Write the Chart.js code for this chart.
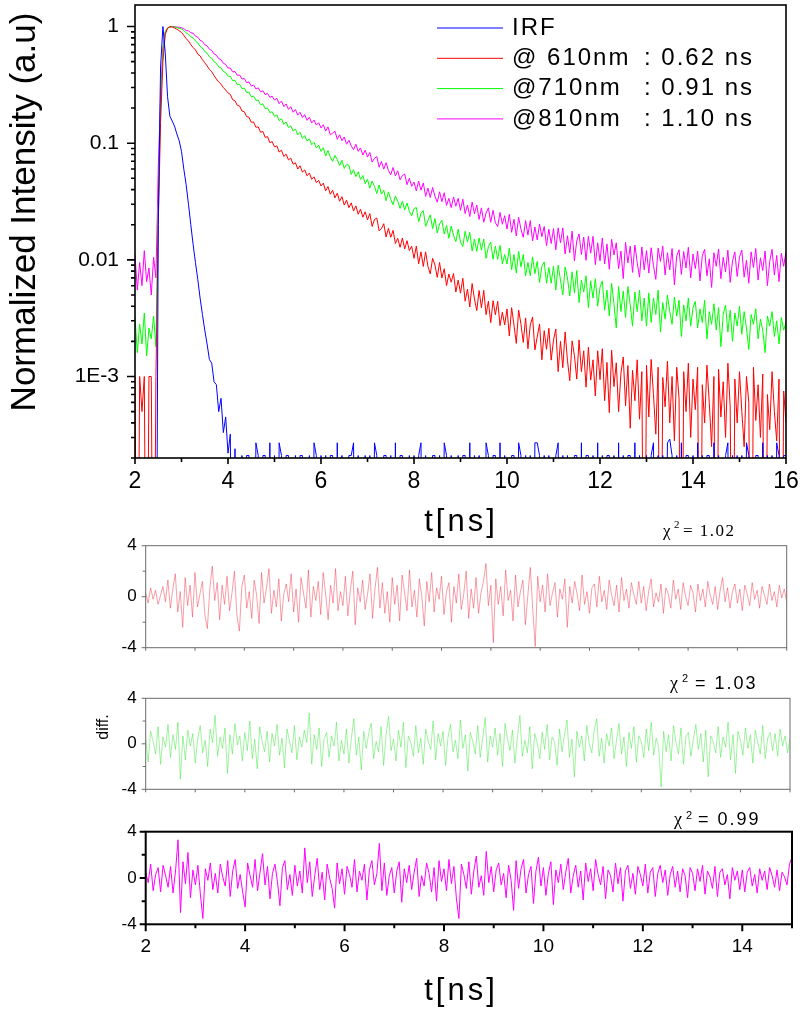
<!DOCTYPE html>
<html>
<head>
<meta charset="utf-8">
<title>Fluorescence decay</title>
<script src="https://cdn.jsdelivr.net/npm/chart.js@4.4.1/dist/chart.umd.min.js"></script>
<style>
  html, body { margin: 0; padding: 0; background: #fff; }
  #wrap { position: relative; width: 800px; height: 1013px; }
  canvas { position: absolute; left: 0; }
</style>
</head>
<body>
<div id="wrap">
  <canvas id="decay" width="800" height="550" style="top:0"></canvas>
  <canvas id="res610" width="800" height="160" style="top:500px"></canvas>
  <canvas id="res710" width="800" height="140" style="top:660px"></canvas>
  <canvas id="res810" width="800" height="213" style="top:800px"></canvas>
</div>
<script>
// time channels: every 0.05 ns starting at 2 ns
const tStart = 2;
const tStep = 0.05;

// normalized decays, 0 = empty channel
const irf = [
  0, 0, 0, 0, 0, 0, 0, 0, 0, 0,
  0.02, 0.45, 1.0, 0.6, 0.25, 0.17, 0.155, 0.14, 0.12, 0.105, 0.085,
  0.06, 0.044, 0.03, 0.02, 0.0135, 0.0095, 0.0068, 0.0047, 0.0034, 0.0025, 0.0019, 0.0014, 0.0013, 0.0009, 0.00085, 0.0005, 0.00065, 0.00033, 0.00045, 0.00022,
  0.00032, 0,
  0.00024, 0, 0, 0.00021, 0, 0.00021, 0.00021, 0, 0, 0.00027, 0.00021, 0, 0.00021, 0.00021, 0, 0.00027, 0, 0.00021,
  0, 0.00027, 0.00021, 0, 0.00021, 0.00021, 0, 0, 0.00021, 0, 0.00021, 0.00021, 0, 0, 0.00021, 0, 0.00027, 0.00021, 0, 0.00021,
  0, 0.00021, 0, 0.00021, 0.00021, 0, 0.00027, 0, 0.00021, 0, 0, 0.00021, 0.00021, 0.00027, 0, 0.00021, 0, 0, 0.00021, 0,
  0.00021, 0, 0.00027, 0.00021, 0, 0, 0.00021, 0.00021, 0, 0.00021, 0, 0.00027, 0, 0.00021, 0.00021, 0, 0, 0.00021, 0, 0.00021,
  0, 0.00021, 0.00027, 0, 0.00021, 0, 0, 0.00021, 0.00021, 0, 0.00021, 0, 0.00027, 0.00021, 0, 0.00021, 0, 0, 0.00021, 0,
  0.00021, 0.00021, 0, 0.00027, 0, 0.00021, 0, 0.00021, 0, 0, 0.00027, 0.00021, 0, 0.00021, 0.00021, 0, 0.00027, 0, 0.00021, 0,
  0, 0.00021, 0.00021, 0, 0.00027, 0.00021, 0, 0.00021, 0, 0.00021, 0, 0.00027, 0.00027, 0.00021, 0, 0.00021, 0, 0.00021, 0, 0,
  0.00021, 0.00027, 0, 0.00021, 0, 0.00021, 0, 0, 0.00021, 0.00021, 0, 0.00027, 0, 0.00021, 0.00021, 0, 0.00021, 0, 0.00027, 0,
  0.00021, 0, 0.00021, 0.00021, 0, 0.00021, 0, 0.00027, 0, 0.00021, 0, 0.00021, 0.00021, 0, 0.00027, 0, 0.00021, 0, 0, 0.00021,
  0, 0.00021, 0.00027, 0, 0.00021, 0, 0.00021, 0, 0.00027, 0.00029, 0.00021, 0, 0.00021, 0, 0.00027, 0, 0.00021, 0.00021, 0, 0.00021,
  0, 0.00027, 0, 0.00021, 0, 0.00021, 0.00021, 0, 0.00027, 0, 0.00021, 0, 0, 0.00021, 0.00027, 0, 0.00021, 0, 0.00021, 0,
  0.00021, 0, 0.00027, 0.00021, 0, 0, 0.00021, 0.00021, 0, 0.00027, 0, 0.00021, 0, 0.00021, 0, 0.00027, 0.00021, 0, 0.00021, 0.00021
];

const em610 = [
  0.001, 0, 0.001, 0.0005, 0.001, 0, 0.001, 0.001, 0, 0.001,
  0.02, 0.15, 0.5, 0.85, 0.97, 1.0, 0.99, 0.97, 0.95, 0.92, 0.89,
  0.84, 0.79, 0.75, 0.70, 0.66, 0.63, 0.58, 0.56, 0.52, 0.49, 0.46, 0.43, 0.41, 0.38, 0.355, 0.335, 0.32, 0.30, 0.285, 0.27,
  0.262, 0.236, 0.231, 0.211, 0.208, 0.189, 0.186, 0.169, 0.167, 0.151, 0.152, 0.137, 0.138, 0.124, 0.126, 0.112, 0.114, 0.101, 0.103, 0.093,
  0.095, 0.084, 0.087, 0.077, 0.0805, 0.072, 0.0745, 0.066, 0.068, 0.060, 0.064, 0.0565, 0.059, 0.0525, 0.0555, 0.049, 0.0515, 0.046, 0.048, 0.043,
  0.0455, 0.039, 0.0425, 0.0365, 0.0395, 0.034, 0.0372, 0.0318, 0.0348, 0.0295, 0.0325, 0.028, 0.0308, 0.0262, 0.029, 0.0246, 0.0272, 0.0232, 0.0258, 0.022,
  0.0249, 0.0193, 0.0222, 0.0228, 0.0177, 0.0185, 0.0204, 0.0157, 0.0186, 0.0156, 0.0179, 0.0138, 0.0153, 0.0128, 0.0154, 0.0124, 0.0146, 0.0120, 0.0131, 0.0103,
  0.0131, 0.00924, 0.0117, 0.00877, 0.0117, 0.00879, 0.00757, 0.0103, 0.00904, 0.00707, 0.00949, 0.00698, 0.0084, 0.00601, 0.00756, 0.00642, 0.00764, 0.0053, 0.00671, 0.00518,
  0.00695, 0.00442, 0.00562, 0.00394, 0.00626, 0.00461, 0.00367, 0.00546, 0.00388, 0.00547, 0.00339, 0.00442, 0.00289, 0.00446, 0.00338, 0.00441, 0.00273, 0.00356, 0.00277, 0.00379,
  0.00222, 0.00389, 0.00276, 0.00192, 0.00371, 0.00281, 0.00196, 0.00318, 0.00173, 0.00276, 0.00323, 0.00169, 0.00218, 0.00282, 0.00139, 0.00247, 0.00171, 0.00259, 0.00138, 0.00205,
  0.00255, 0.0011, 0.002, 0.00119, 0.00241, 0.00138, 0.00092, 0.00202, 0.00151, 0.00095, 0.00206, 0.0011, 0.00166, 0.00081, 0.00178, 0.00093, 0.00139, 0.00068, 0.00166, 0.00094,
  0.00173, 0.00062, 0.00132, 0.00049, 0.00168, 0.00082, 0.00131, 0.0005, 0.00107, 0.00147, 0.00056, 0.00124, 0.00036, 0.00113, 0.00062, 0.00139, 0.00043, 0.0011, 0, 0.00125,
  0.00045, 0.0014, 0.0007, 0.00032, 0.0012, 0, 0.00098, 0.00055, 0.00135, 0.0004, 0.001, 0.00028, 0.0012, 0.00065, 0, 0.0011, 0.0005, 0.0013, 0.0003, 0.00095,
  0.00052, 0.0012, 0, 0.00085, 0.0004, 0.00125, 0.0006, 0.00025, 0.001, 0, 0.00115, 0.00045, 0.0009, 0.0003, 0.0013, 0.00055, 0, 0.00095, 0.0004, 0.0011,
  0.0005, 0.00025, 0.001, 0.0006, 0, 0.0012, 0.00042, 0.00085, 0.0003, 0.00105, 0, 0.0007, 0.00035, 0.0011, 0.0005, 0.00028, 0.00095, 0, 0.00075, 0.0004
];

const em710 = [
  0.0032, 0.0016, 0.0028, 0.0019, 0.0035, 0.0015, 0.0026, 0.0021, 0.0033, 0.0018,
  0.03, 0.2, 0.6, 0.9, 0.97, 0.99, 1.0, 0.99, 0.98, 0.965, 0.955,
  0.925, 0.882, 0.86, 0.818, 0.80, 0.75, 0.723, 0.676, 0.655, 0.611, 0.592, 0.551, 0.535, 0.498, 0.485, 0.452, 0.442, 0.412, 0.403, 0.376,
  0.373, 0.344, 0.345, 0.318, 0.320, 0.294, 0.296, 0.272, 0.274, 0.250, 0.253, 0.233, 0.234, 0.214, 0.217, 0.198, 0.200, 0.183, 0.186, 0.170,
  0.175, 0.156, 0.162, 0.145, 0.152, 0.136, 0.141, 0.127, 0.132, 0.118, 0.124, 0.110, 0.116, 0.104, 0.109, 0.097, 0.102, 0.091, 0.096, 0.085,
  0.0915, 0.0777, 0.0866, 0.076, 0.0698, 0.0786, 0.0725, 0.0641, 0.0714, 0.0607, 0.0656, 0.0647, 0.0539, 0.0591, 0.0517, 0.0569, 0.0489, 0.0529, 0.0449, 0.0491,
  0.0412, 0.0474, 0.0425, 0.037, 0.0438, 0.0366, 0.0395, 0.0321, 0.0382, 0.0329, 0.0297, 0.0353, 0.0318, 0.0276, 0.0319, 0.0267, 0.0307, 0.0261, 0.0238, 0.0275,
  0.0281, 0.0212, 0.025, 0.0264, 0.0194, 0.0217, 0.0243, 0.0185, 0.0226, 0.017, 0.0203, 0.0218, 0.0166, 0.0197, 0.0153, 0.0195, 0.0162, 0.0143, 0.0183, 0.0142,
  0.013, 0.0176, 0.0142, 0.0172, 0.0119, 0.0151, 0.0118, 0.0154, 0.0121, 0.0151, 0.0103, 0.013, 0.0142, 0.0101, 0.0131, 0.0101, 0.0133, 0.0092, 0.0111, 0.0092,
  0.0126, 0.0082, 0.0111, 0.0077, 0.0118, 0.0087, 0.0111, 0.0073, 0.0095, 0.0073, 0.0106, 0.0076, 0.0097, 0.0064, 0.0088, 0.0096, 0.0063, 0.0086, 0.0063, 0.0088,
  0.0055, 0.009, 0.0067, 0.005, 0.0087, 0.007, 0.0049, 0.0079, 0.0052, 0.0081, 0.0043, 0.0067, 0.0053, 0.0073, 0.0039, 0.0066, 0.0047, 0.0069, 0.004, 0.0058,
  0.0066, 0.0037, 0.0055, 0.0033, 0.0063, 0.0042, 0.0026, 0.0059, 0.0036, 0.0054, 0.0032, 0.0059, 0.0041, 0.0027, 0.0053, 0.0036, 0.0055, 0.003, 0.0047, 0.0027,
  0.0052, 0.0029, 0.0047, 0.0034, 0.0055, 0.0024, 0.0043, 0.0031, 0.005, 0.0036, 0.0028, 0.0048, 0.0033, 0.0045, 0.0022, 0.0041, 0.003, 0.0047, 0.0027, 0.0039,
  0.0044, 0.0026, 0.0038, 0.0029, 0.0045, 0.0021, 0.0036, 0.0028, 0.0042, 0.0025, 0.0039, 0.0018, 0.0034, 0.0041, 0.0024, 0.0037, 0.002, 0.0035, 0.0027, 0.004,
  0.0023, 0.0036, 0.0026, 0.0017, 0.0034, 0.0028, 0.0038, 0.0021, 0.0031, 0.0025, 0.0016, 0.0033, 0.0027, 0.0036, 0.0022, 0.003, 0.0019, 0.0032, 0.0025, 0.0029
];

const em810 = [
  0.011, 0.0055, 0.0095, 0.006, 0.012, 0.0065, 0.0085, 0.005, 0.0105, 0.007,
  0.06, 0.25, 0.65, 0.9, 0.97, 0.99, 1.0, 1.0, 0.99, 0.985, 0.975,
  0.96, 0.925, 0.918, 0.884, 0.878, 0.828, 0.81, 0.762, 0.745, 0.70, 0.683, 0.64, 0.624, 0.582, 0.568, 0.53, 0.52, 0.484, 0.474, 0.441,
  0.441, 0.408, 0.412, 0.381, 0.384, 0.355, 0.359, 0.331, 0.335, 0.309, 0.315, 0.292, 0.298, 0.276, 0.281, 0.261, 0.267, 0.247, 0.253, 0.234,
  0.243, 0.218, 0.23, 0.206, 0.217, 0.195, 0.206, 0.184, 0.194, 0.174, 0.184, 0.166, 0.176, 0.157, 0.167, 0.149, 0.158, 0.143, 0.15, 0.135,
  0.144, 0.127, 0.138, 0.118, 0.122, 0.127, 0.108, 0.118, 0.105, 0.113, 0.098, 0.106, 0.095, 0.088, 0.098, 0.085, 0.091, 0.079, 0.087, 0.076,
  0.0833, 0.0688, 0.0741, 0.0768, 0.0622, 0.0697, 0.0599, 0.0681, 0.0583, 0.0536, 0.0619, 0.0524, 0.058, 0.0485, 0.0528, 0.0544, 0.0441, 0.05, 0.0427, 0.0465,
  0.0389, 0.0474, 0.0396, 0.0456, 0.035, 0.0412, 0.0342, 0.0417, 0.0352, 0.0312, 0.0383, 0.0315, 0.0376, 0.0293, 0.0337, 0.028, 0.0346, 0.0288, 0.0337, 0.0266,
  0.0331, 0.0249, 0.0295, 0.0235, 0.0313, 0.0248, 0.0295, 0.0222, 0.0279, 0.021, 0.0252, 0.0279, 0.021, 0.0266, 0.0208, 0.0193, 0.0255, 0.0202, 0.0239, 0.0184,
  0.0246, 0.0172, 0.0223, 0.016, 0.0232, 0.0183, 0.0156, 0.0217, 0.0163, 0.0217, 0.0145, 0.0191, 0.0148, 0.0203, 0.0158, 0.0193, 0.0132, 0.0183, 0.0138, 0.0185,
  0.0122, 0.0188, 0.014, 0.0188, 0.0112, 0.0161, 0.0115, 0.0176, 0.0098, 0.0145, 0.0167, 0.0111, 0.0157, 0.0099, 0.0159, 0.0114, 0.0159, 0.0091, 0.014, 0.0098,
  0.0154, 0.0092, 0.0137, 0.0083, 0.015, 0.011, 0.014, 0.0084, 0.0119, 0.0069, 0.0141, 0.0094, 0.0131, 0.0078, 0.0134, 0.0095, 0.0071, 0.0129, 0.0082, 0.012,
  0.0077, 0.0127, 0.0089, 0.0068, 0.0126, 0.0097, 0.0131, 0.0074, 0.0115, 0.0082, 0.0125, 0.0061, 0.0108, 0.0122, 0.0075, 0.0118, 0.0085, 0.0128, 0.007, 0.0112,
  0.0084, 0.0119, 0.0066, 0.0108, 0.0123, 0.0073, 0.0102, 0.0058, 0.0115, 0.0088, 0.0124, 0.0069, 0.0105, 0.0079, 0.0121, 0.0064, 0.0098, 0.0117, 0.0072, 0.0106,
  0.0121, 0.0071, 0.0099, 0.0063, 0.0117, 0.0086, 0.0125, 0.0067, 0.0104, 0.0081, 0.0119, 0.006, 0.0097, 0.0123, 0.0074, 0.0109, 0.0065, 0.0114, 0.0088, 0.0118
];

// weighted residuals of the fits, 2 ns .. 15 ns
const res610 = [
  0.3, -0.5, 0.7, -0.2, 0.5, -0.6, 0.1, 0.8, -0.4, 1.3, -0.9, 0.6, 1.8, -1.2, 0.4, -2.4, 1.5, -0.7, 0.9, -1.6,
  1.9, -0.8, 0.2, 1.2, -1.4, -2.5, 0.6, 2.4, -0.3, 1.1, -1.8, 0.9, -0.6, 1.6, -1.1, 0.3, 2.0, -1.5, -2.7, 0.8,
  1.7, -0.9, 0.4, -1.7, 1.3, 0.1, -2.1, 1.9, -0.5, 0.7, 2.2, -1.3, 0.5, -0.8, 1.4, -1.9, 0.2, 1.0, -0.4, 1.8,
  -1.2, 0.6, -2.0, 1.5, 0.3, -0.9, 2.1, -1.6, 0.8, -0.3, 1.2, -1.4, 1.9, 0.2, -1.8, 0.9, -0.5, 2.2, -1.1, 0.4,
  -0.7, 1.6, -1.5, 0.5, 2.0, -2.2, 0.7, -0.4, 1.3, -1.0, 0.2, 1.8, -1.7, 0.6, 2.3, -0.9, 1.1, -1.3, 0.4, -2.0,
  1.5, -0.6, 0.9, -1.9, 1.7, 0.3, -1.1, 2.1, -0.8, 0.5, -1.6, 1.4, 0.0, -2.3, 1.2, -0.4, 1.9, -1.2, 0.7, -0.2,
  1.6, -1.4, 0.4, 1.1, -2.0, 0.8, -0.5, 1.8, -1.0, 0.2, 2.0, -1.7, 0.6, -0.9, 1.5, -1.3, 0.3, 1.2, 2.6, -0.7,
  0.9, -3.6, 1.4, -0.6, 0.8, -1.5, 2.1, -0.3, 0.5, -1.9, 1.7, -0.8, 0.4, 1.3, -2.2, 0.1, 2.3, -1.0, -3.9, 1.6,
  -0.4, 0.9, -1.2, 1.8, -0.7, 0.3, 1.1, -1.6, 0.6, -0.2, 1.4, -2.4, 0.8, -0.5, 1.2, 0.2, -1.1, 1.7, -0.6, 0.4,
  -1.3, 0.7, 1.0, -0.8, 1.6, -0.4, 0.5, -1.0, 1.3, 0.1, -0.7, 0.9, -1.2, 1.5, -0.3, 0.6, -0.9, 1.1, 0.2, -0.6,
  1.2, -0.5, 0.8, -1.1, 0.4, 1.4, -0.8, 0.3, -0.4, 1.0, -1.3, 0.7, 0.2, -0.9, 1.3, -0.2, 0.6, -1.0, 1.1, 0.0,
  -0.7, 0.9, 0.3, -1.2, 1.0, -0.3, 0.6, -0.8, 1.2, 0.1, -0.6, 0.8, -1.0, 0.5, 1.5, -0.4, 0.7, -0.9, 0.4, 1.0,
  -0.5, 0.6, -1.1, 0.9, 0.2, -0.7, 1.1, -0.2, 0.5, -0.9, 0.8, 0.1, -0.6, 1.0, -0.3, 0.4, -0.8, 0.9, -0.1, 0.6,
  -0.4
];

const res710 = [
  0.4, -1.6, 1.1, 0.2, -0.9, 1.5, -1.8, 0.6, -0.3, 1.7, -1.2, 0.8, -0.5, 1.9, -3.1, 0.7, -1.4, 1.2, -0.2, 0.9,
  -1.7, 0.5, 1.6, -0.8, 0.3, -2.0, 1.3, 0.1, 2.5, -1.1, 0.6, -0.4, 1.4, -2.6, 0.8, -0.9, 1.8, -0.1, 0.7, -1.5,
  1.0, -0.6, 2.0, -1.3, 0.4, -2.2, 1.5, 0.2, -0.7, 1.1, -1.6, 0.9, -0.2, 1.7, -1.0, 0.5, -2.1, 1.3, 0.3, -0.8,
  1.6, -1.4, 0.6, -0.3, 1.2, 0.1, 2.7, -1.8, 0.8, -0.5, 1.4, -2.0, 0.4, 1.0, -1.2, 0.7, -0.2, 1.9, -1.5, 0.3,
  -0.9, 1.3, -1.7, 0.5, 2.2, -1.0, 0.6, -2.3, 1.1, -0.4, 0.9, 1.8, -1.3, 0.2, -0.7, 1.5, -1.9, 0.8, 2.4, -0.6,
  0.4, -1.5, 1.2, -0.3, 1.9, -2.1, 0.7, 0.1, -1.1, 1.6, -0.8, 0.5, -1.8, 1.3, 0.2, -0.5, 2.0, -1.4, 0.9, -0.2,
  1.1, -1.9, 0.6, 1.7, -0.7, 0.3, -1.3, 2.1, -0.4, 0.8, -2.4, 1.0, 0.2, -0.9, 1.6, -1.2, 0.5, 2.3, -1.6, 0.7,
  -0.3, 1.4, -1.0, 0.9, -2.0, 1.8, 0.4, -0.6, 1.2, -1.7, 0.6, 2.5, -1.1, 0.3, -0.8, 1.5, -2.2, 0.9, 0.1, -1.3,
  1.0, -0.5, 1.7, -1.4, 0.6, 0.2, -1.9, 1.3, -0.7, 0.8, 2.1, -1.2, 0.4, -2.9, 1.1, -0.3, 0.7, -1.5, 1.6, 0.0,
  -0.8, 1.2, 2.2, -1.1, 0.5, -1.7, 0.9, -0.2, 1.4, -1.3, 0.3, 1.8, -0.9, 0.6, -2.0, 1.0, -0.4, 1.5, -1.6, 0.7,
  0.2, -1.2, 1.3, -0.6, 1.9, -1.0, 0.5, -0.3, -3.8, 1.1, -0.7, 0.8, -1.5, 1.6, 0.1, -0.9, 1.4, -1.8, 0.6, 1.0,
  -1.1, 0.4, 1.7, -0.5, 0.9, -1.6, 1.2, -2.9, 0.7, 0.2, -0.8, 1.5, -1.2, 0.6, -0.3, 1.9, -1.4, 0.8, -2.6, 1.1,
  0.3, -1.0, 1.4, -0.4, 0.8, -1.7, 1.2, 0.1, -0.9, 1.6, -1.3, 0.5, 1.0, -0.6, 0.9, -1.1, 1.3, -0.2, 0.7, -0.8,
  0.5
];

const res810 = [
  0.5, -0.4, 1.2, -1.1, 0.3, 0.9, -1.2, 1.1, 0.2, -0.8, 1.0, -1.3, 0.6, 3.3, -3.0, 1.4, -0.5, 2.2, -1.7, 0.7,
  -0.6, 1.1, -1.4, -3.5, 0.8, -0.2, 1.3, -1.0, 0.4, -1.3, 1.2, 0.1, -0.7, 1.5, -1.6, 0.6, 1.6, -0.9, 0.3, -1.2,
  -2.5, 1.3, 0.2, -0.8, 1.6, -1.1, 0.5, 2.1, -0.6, 1.0, -1.8, 0.4, 1.2, -0.3, -2.4, 0.9, 1.5, -1.0, 0.3, -1.5,
  1.1, -0.7, 0.6, -1.3, 2.6, -0.4, 1.4, -1.6, 0.2, 1.7, -1.0, 0.5, -1.9, 1.2, 0.0, -0.9, -2.6, 1.3, -0.5, 0.8,
  -1.4, 1.0, 0.3, -0.8, 1.6, -1.2, 0.6, -0.2, 1.2, -1.9, 0.7, 1.5, -0.6, 0.4, 3.0, -1.1, 1.3, -1.5, 0.2, 0.9,
  -1.3, 0.6, 1.4, -2.1, 0.8, -0.4, 1.1, -1.0, 0.5, 1.7, -1.6, 0.2, -0.7, 1.3, 0.4, -1.2, 0.9, -2.0, 1.5, -0.3,
  0.8, -1.1, 1.6, -0.5, 1.0, -1.8, -3.5, 1.2, 0.3, -0.9, 1.4, -1.4, 0.6, 1.9, -0.8, 0.2, -1.5, 2.3, -0.4, 1.0,
  -1.2, 0.7, 1.3, -0.6, 0.4, -1.7, 1.1, -0.2, -2.8, 1.5, -0.9, 0.8, 1.6, -1.3, 0.3, 1.0, -2.2, 0.6, 1.8, -0.7,
  0.9, -1.5, 0.4, 1.4, -2.3, 0.7, -0.4, 1.2, -1.0, 0.5, 1.7, -1.3, 0.2, 1.1, -0.8, 0.6, -1.9, 1.3, -0.3, 0.8,
  -1.1, 1.6, 0.3, -0.6, 1.0, -1.8, 0.7, 0.2, -1.2, 1.3, -0.5, 0.9, -2.0, 0.6, 1.1, -0.9, 0.4, -1.4, 1.0, 0.3,
  -0.7, 1.2, -1.3, 0.5, 0.9, -1.6, 0.4, 1.1, -0.4, 0.7, -1.5, 0.3, 1.0, -0.8, 0.6, -1.2, 0.8, 0.2, -1.7, 0.9,
  0.4, -1.1, 0.8, -0.3, 1.1, -1.4, 0.6, 0.1, -0.9, 1.0, -1.6, 0.5, 0.8, -0.6, 0.3, -1.8, 0.9, -0.2, 0.6, -1.0,
  0.7, -1.2, 0.5, 0.9, -0.7, 0.3, -1.3, 0.8, -0.2, 0.6, -1.0, 0.9, 0.2, -0.8, 0.7, -1.1, 0.5, 0.1, -0.6, 1.2,
  1.8
];

// legend text
const seriesLabels = ['IRF', '@ 610nm', '@710nm', '@810nm'];
const lifetimes = ['', '0.62 ns', '0.91 ns', '1.10 ns'];
const seriesColors = ['#0000ff', '#ff0000', '#00ff00', '#ff00ff'];

// ticks
const yTickValues = [0.001, 0.01, 0.1, 1];
const yTickText = ['1E-3', '0.01', '0.1', '1'];
const xTicksMain = [2, 4, 6, 8, 10, 12, 14, 16];
const xMinorMain = [3, 5, 7, 9, 11, 13, 15];
const xTicksRes = [2, 4, 6, 8, 10, 12, 14];
const xMinorRes = [3, 5, 7, 9, 11, 13, 15];
const yTicksRes = [-4, 0, 4];
const yMinorRes = [-2, 2];
const chiLabels = ['1.02', '1.03', '0.99'];

const SANS = '"Liberation Sans", Arial, sans-serif';
const SERIF = '"Liberation Serif", "Times New Roman", serif';
Chart.defaults.font.family = SANS;
Chart.defaults.color = '#000';

// empty channels sit below the log axis floor, like in the original plot
const LOG_FLOOR = 1e-6;

function toPoints(vals, logAxis) {
  return vals.map((v, i) => ({
    x: +(tStart + i * tStep).toFixed(2),
    y: logAxis && v === 0 ? LOG_FLOOR : v
  }));
}

// box around the plot area plus outward tick marks
function frame(o) {
  return {
    id: 'frame',
    afterDraw(chart) {
      const { ctx, chartArea: a, scales: { x, y } } = chart;
      ctx.save();
      ctx.strokeStyle = o.color;
      ctx.lineWidth = o.width;
      ctx.strokeRect(a.left, a.top, a.right - a.left, a.bottom - a.top);
      ctx.beginPath();
      o.xTicks.forEach(([v, len]) => {
        const p = x.getPixelForValue(v);
        ctx.moveTo(p, a.bottom);
        ctx.lineTo(p, a.bottom + len);
      });
      o.yTicks.forEach(([v, len]) => {
        const p = y.getPixelForValue(v);
        ctx.moveTo(a.left, p);
        ctx.lineTo(a.left - len, p);
      });
      ctx.stroke();
      ctx.restore();
    }
  };
}

// free text (titles, chi-square notes)
function notes(items) {
  return {
    id: 'notes',
    afterDraw(chart) {
      const ctx = chart.ctx;
      items.forEach(it => {
        ctx.save();
        ctx.font = it.font;
        ctx.fillStyle = '#000';
        ctx.letterSpacing = it.spacing || '0px';
        ctx.textAlign = it.align || 'left';
        ctx.textBaseline = it.baseline || 'alphabetic';
        ctx.translate(it.x, it.y);
        if (it.rotate) ctx.rotate(it.rotate);
        ctx.fillText(it.text, 0, 0);
        ctx.restore();
      });
    }
  };
}

// legend drawn inside the plot, top right
const insideLegend = {
  id: 'insideLegend',
  afterDraw(chart) {
    const ctx = chart.ctx;
    ctx.save();
    ctx.font = '24px ' + SANS;
    ctx.letterSpacing = '2px';
    ctx.textBaseline = 'middle';
    chart.data.datasets.forEach((ds, i) => {
      const y = 28 + i * 30.3;
      ctx.strokeStyle = ds.borderColor;
      ctx.lineWidth = 1;
      ctx.beginPath();
      ctx.moveTo(437, y);
      ctx.lineTo(503, y);
      ctx.stroke();
      ctx.fillStyle = '#000';
      ctx.fillText(ds.label, 512, y);
      if (lifetimes[i]) ctx.fillText(': ' + lifetimes[i], 644, y);
    });
    ctx.restore();
  }
};

// main decay plot
const decaySeries = [irf, em610, em710, em810];
const yMinor = [1e-4, 1e-3, 1e-2, 1e-1]
  .flatMap(d => [2, 3, 4, 5, 6, 7, 8, 9].map(m => m * d))
  .filter(v => v >= 0.0002 && v <= 1.53);

new Chart(document.getElementById('decay'), {
  type: 'line',
  data: {
    datasets: decaySeries.map((vals, i) => ({
      label: seriesLabels[i],
      data: toPoints(vals, true),
      borderColor: seriesColors[i],
      borderWidth: 1,
      pointRadius: 0,
      tension: 0
    }))
  },
  options: {
    responsive: false,
    animation: false,
    events: [],
    layout: { padding: { top: 5, right: 14, left: 0, bottom: 0 } },
    plugins: { legend: { display: false }, tooltip: { enabled: false } },
    scales: {
      x: {
        type: 'linear', min: 2, max: 16,
        grid: { display: false, drawTicks: false },
        border: { display: false },
        afterBuildTicks: s => { s.ticks = xTicksMain.map(v => ({ value: v })); },
        ticks: { padding: 10, font: { size: 23 }, maxRotation: 0, autoSkip: false },
        afterFit: s => { s.height = 92; s.paddingLeft = 0; s.paddingRight = 0; }
      },
      y: {
        type: 'logarithmic', min: 0.0002, max: 1.53,
        grid: { display: false, drawTicks: false },
        border: { display: false },
        afterBuildTicks: s => { s.ticks = yTickValues.map(v => ({ value: v })); },
        ticks: {
          padding: 16, font: { size: 21 }, autoSkip: false,
          callback: v => yTickText[yTickValues.indexOf(v)]
        },
        afterFit: s => { s.width = 135; s.paddingTop = 0; s.paddingBottom = 0; }
      }
    }
  },
  plugins: [
    frame({
      color: '#000', width: 1.6,
      xTicks: xTicksMain.map(v => [v, 6]).concat(xMinorMain.map(v => [v, 4])),
      yTicks: yTickValues.map(v => [v, 8]).concat(yMinor.map(v => [v, 4]))
    }),
    insideLegend,
    notes([
      { text: 'Normalized Intensity (a.u)', x: 25, y: 212, font: '35px ' + SANS, align: 'center', baseline: 'middle', rotate: -Math.PI / 2 },
      { text: 't[ns]', x: 461, y: 522, font: '31px ' + SANS, align: 'center', baseline: 'middle', spacing: '3px' }
    ])
  ]
});

// residual panels
function residual(id, vals, cfg) {
  new Chart(document.getElementById(id), {
    type: 'line',
    data: {
      datasets: [{
        data: toPoints(vals, false),
        borderColor: cfg.color,
        borderWidth: cfg.lineWidth,
        pointRadius: 0,
        tension: 0
      }]
    },
    options: {
      responsive: false,
      animation: false,
      events: [],
      layout: { padding: { top: cfg.top, right: cfg.right, left: 0, bottom: 0 } },
      plugins: { legend: { display: false }, tooltip: { enabled: false } },
      scales: {
        x: {
          type: 'linear', min: 2, max: 15,
          grid: { display: false, drawTicks: false },
          border: { display: false },
          afterBuildTicks: s => { s.ticks = xTicksRes.map(v => ({ value: v })); },
          ticks: { display: cfg.showX, padding: 11, font: { size: 19 }, maxRotation: 0, autoSkip: false },
          afterFit: s => { s.height = cfg.xHeight; s.paddingLeft = 0; s.paddingRight = 0; }
        },
        y: {
          type: 'linear', min: -4, max: 4,
          grid: { display: false, drawTicks: false },
          border: { display: false },
          afterBuildTicks: s => { s.ticks = yTicksRes.map(v => ({ value: v })); },
          ticks: { padding: 9, font: { size: 17 }, autoSkip: false },
          afterFit: s => { s.width = 145.7; s.paddingTop = 0; s.paddingBottom = 0; }
        }
      }
    },
    plugins: [frame(cfg.frame), notes(cfg.notes)]
  });
}

residual('res610', res610, {
  color: 'rgba(238, 50, 70, 0.6)', lineWidth: 0.8,
  top: 45.7, right: 13.3, xHeight: 12.3, showX: false,
  frame: {
    color: '#6a6a6a', width: 1,
    xTicks: xTicksRes.concat(xMinorRes).map(v => [v, 3]),
    yTicks: yTicksRes.map(v => [v, 4]).concat(yMinorRes.map(v => [v, 3]))
  },
  notes: [
    { text: 'χ', x: 663, y: 36, font: '17px ' + SERIF },
    { text: '2', x: 674, y: 28, font: '11px ' + SERIF },
    { text: '= ' + chiLabels[0], x: 683, y: 36, font: '17px ' + SERIF, spacing: '1.5px' }
  ]
});

residual('res710', res710, {
  color: 'rgba(40, 225, 40, 0.55)', lineWidth: 0.8,
  top: 38.3, right: 10, xHeight: 10.7, showX: false,
  frame: {
    color: '#6a6a6a', width: 1,
    xTicks: xTicksRes.concat(xMinorRes).map(v => [v, 3]),
    yTicks: yTicksRes.map(v => [v, 4]).concat(yMinorRes.map(v => [v, 3]))
  },
  notes: [
    { text: 'diff.', x: 104, y: 67, font: '16px ' + SANS, align: 'center', baseline: 'middle', rotate: -Math.PI / 2 },
    { text: 'χ', x: 670, y: 29, font: '18px ' + SERIF },
    { text: '2', x: 682, y: 22, font: '11px ' + SANS },
    { text: '= ' + chiLabels[1], x: 695, y: 29, font: '18px ' + SANS, spacing: '2px' }
  ]
});

residual('res810', res810, {
  color: '#ff00ff', lineWidth: 1,
  top: 31.7, right: 8, xHeight: 88.7, showX: true,
  frame: {
    color: '#000', width: 2,
    xTicks: xTicksRes.map(v => [v, 7]).concat(xMinorRes.map(v => [v, 4])),
    yTicks: yTicksRes.map(v => [v, 6]).concat(yMinorRes.map(v => [v, 4]))
  },
  notes: [
    { text: 'χ', x: 674, y: 25, font: '18px ' + SERIF },
    { text: '2', x: 686, y: 19, font: '11px ' + SANS },
    { text: '= ' + chiLabels[2], x: 698, y: 25, font: '18px ' + SANS, spacing: '2px' },
    { text: 't[ns]', x: 461, y: 191, font: '31px ' + SANS, align: 'center', baseline: 'middle', spacing: '3px' }
  ]
});
</script>
</body>
</html>
